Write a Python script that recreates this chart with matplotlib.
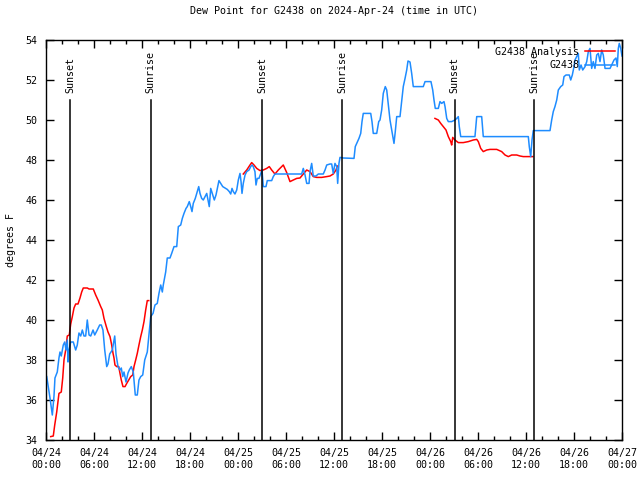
import numpy as np
import matplotlib

matplotlib.use("Agg")
import matplotlib.pyplot as plt

# hours since 2024-04-24 00:00 UTC
obs_hours = [
    0.09, 0.5, 0.79, 1.0, 1.12, 1.41, 1.62, 1.75, 1.91, 2.16, 2.34, 2.5, 2.66, 2.75, 2.88,
    3.09, 3.41, 3.71, 3.91, 4.12, 4.34, 4.54, 4.75, 4.96, 5.16, 5.38, 5.59, 5.88, 6.09,
    6.41, 6.71, 6.91, 7.12, 7.34, 7.59, 7.75, 7.96, 8.29, 8.59, 8.75, 9.0, 9.25, 9.41,
    9.59, 9.75, 10.0, 10.25, 10.41, 10.66, 10.91, 11.16, 11.41, 11.62, 11.84, 12.09,
    12.34, 12.66, 12.91, 13.09, 13.38, 13.62, 13.91, 14.12, 14.34, 14.54, 14.66,
    14.96, 15.16, 15.5, 15.71, 16.0, 16.34, 16.54, 16.84, 17.04, 17.25, 17.5, 17.66,
    17.91, 18.09, 18.25, 18.41, 18.66, 18.91, 19.09, 19.25, 19.46, 19.66, 19.88, 20.09,
    20.29, 20.41, 20.59, 20.79, 21.04, 21.25, 21.46, 21.62, 21.88, 22.09, 22.38, 22.66,
    22.91, 23.09, 23.25, 23.41, 23.62, 23.84, 24.04, 24.25, 24.38, 24.5, 24.66, 24.88,
    25.09, 25.38, 25.59, 25.75, 25.91, 26.12, 26.25, 26.41, 26.62, 26.84, 27.0,
    27.16, 27.5, 27.66, 28.21, 28.41, 28.62, 31.96, 32.16, 32.38, 32.59, 32.88, 33.0,
    33.21, 33.41, 33.75, 34.04, 34.66, 34.88, 35.09, 35.5, 35.71, 35.91, 36.12, 36.34,
    36.46, 36.62, 36.75, 37.16, 38.5, 38.66, 38.84, 39.12, 39.34, 39.5, 39.66, 40.59,
    40.75, 40.91, 41.34, 41.59, 41.75, 41.96, 42.16, 42.41, 42.59, 42.79, 43.0, 43.25,
    43.5, 43.66, 43.84, 44.25, 44.46, 44.66, 44.88, 45.09, 45.25, 45.5, 45.71, 45.91,
    47.16, 47.38, 48.12, 48.34, 48.5, 48.66, 49.04, 49.25, 49.46, 49.75, 49.88, 50.09,
    50.29, 50.71, 51.12, 51.34, 51.54, 51.66, 51.84, 53.62, 53.84, 54.46, 54.66, 60.29,
    60.41, 60.59, 60.75, 60.91, 63.0, 63.21, 63.41, 63.62, 63.84, 64.04, 64.34, 64.59,
    64.75, 65.0, 65.41, 65.59, 65.79, 66.0, 66.12, 66.34, 66.54, 66.66, 66.88, 67.09,
    67.38, 67.59, 67.79, 68.0, 68.21, 68.41, 68.62, 68.84, 69.04, 69.25, 69.46, 69.66,
    69.88, 70.5, 70.71, 71.0, 71.25, 71.41, 71.54, 71.66, 71.84, 72.0,
]
obs_dewpt = [
    37.17, 36.1, 35.25, 36.2, 37.1, 37.4, 38.1, 38.4, 38.2, 38.75, 38.9, 38.5, 39.0, 37.9, 38.5,
    38.9, 38.9, 38.5, 38.75, 39.35, 39.2, 39.5, 39.2, 39.2, 40.0, 39.25, 39.2, 39.5, 39.25,
    39.5, 39.75, 39.75, 39.5, 38.5, 37.67, 37.8, 38.3, 38.5, 39.2, 38.3, 37.67, 37.5, 37.6,
    37.17, 37.4, 36.9, 37.35, 37.5, 37.67, 37.4, 36.25, 36.25, 37.0, 37.17, 37.25,
    38.0, 38.4, 39.4, 40.17, 40.33, 40.75, 40.83, 41.33, 41.75, 41.4, 41.75,
    42.4, 43.1, 43.1, 43.33, 43.67, 43.67, 44.67, 44.75, 45.08, 45.33, 45.58, 45.67,
    45.92, 45.67, 45.42, 45.83, 46.08, 46.42, 46.67, 46.33, 46.08, 46.0, 46.17, 46.33,
    45.92, 45.67, 46.58, 46.33, 46.0, 46.25, 46.67, 46.97, 46.8, 46.67, 46.6, 46.53,
    46.42, 46.3, 46.58, 46.42, 46.3, 46.5, 47.0, 47.33, 46.92, 46.33, 46.83, 47.25,
    47.42, 47.5, 47.67, 47.75, 47.67, 47.42, 46.75, 47.08, 47.08, 47.33, 47.5,
    46.67, 46.67, 46.97, 46.97, 47.17, 47.3, 47.3, 47.58, 47.25, 46.83, 46.83, 47.42,
    47.83, 47.2, 47.2, 47.3, 47.3, 47.5, 47.75, 47.8, 47.8, 47.33, 47.83, 47.67,
    46.83, 47.83, 48.13, 48.1, 48.08, 48.67, 48.83, 49.08, 49.33, 49.92, 50.33, 50.33,
    49.92, 49.33, 49.33, 49.92, 50.0, 50.5, 51.33, 51.67, 51.5, 50.75, 50.0, 49.42,
    48.83, 49.42, 50.17, 50.17, 50.92, 51.67, 52.08, 52.5, 52.95, 52.9, 52.33, 51.67,
    51.67, 51.92, 51.92, 51.5, 51.0, 50.58, 50.58, 50.92, 50.83, 50.92, 50.67, 50.08,
    49.92, 49.92, 50.0, 50.08, 50.17, 49.67, 49.17, 49.17, 50.17, 50.17, 49.17, 49.17,
    48.67, 48.17, 49.0, 49.47, 49.47, 50.0, 50.42, 50.67, 51.0, 51.5, 51.67, 51.75,
    52.17, 52.25, 52.25, 52.0, 52.25, 52.67, 53.0, 53.17, 53.33, 52.5, 52.75, 52.5,
    52.67, 52.92, 53.42, 53.58, 52.58, 52.92, 52.58, 53.25, 53.33, 52.92, 53.5, 53.25,
    52.58, 52.58, 52.75, 53.0, 53.1, 52.67, 53.58, 53.83, 53.58, 53.2,
]

# analysis, None marks gaps
ana_hours = [
    0.59, 0.91, 1.09, 1.34, 1.62, 1.91, 2.09, 2.25, 2.46, 2.66, 2.91, 3.09, 3.29, 3.5,
    3.71, 4.0, 4.25, 4.46, 4.66, 5.16, 5.38, 5.91, 6.21, 6.5, 6.84, 7.04, 7.25, 7.54,
    7.75, 8.0, 8.21, 8.38, 8.5, 8.62, 8.84, 9.09, 9.25, 9.41, 9.62, 9.88, 10.09, 10.34,
    10.59, 10.84, 11.0, 11.21, 11.41, 11.62, 11.84, 12.04, 12.25, 12.46, 12.66, 12.84,
    18.0,
    24.66, 25.09, 25.5, 25.71, 26.0, 26.34, 26.75, 27.16, 27.59, 27.91, 28.21, 28.62,
    29.04, 29.66, 30.09, 30.5, 30.91, 31.34, 31.75, 32.16, 32.59, 33.0, 33.41, 33.84,
    34.46, 35.09, 35.5, 35.91, 36.25, 36.41,
    42.0,
    48.62, 49.04, 49.34, 49.66, 50.0, 50.29, 50.59, 50.71, 50.84, 51.12, 51.54, 52.16,
    52.79, 53.41, 53.84, 54.04, 54.34, 54.66, 55.09, 55.5, 56.34, 56.96, 57.38, 57.79,
    58.21, 58.84, 59.25, 59.66, 60.84,
]
ana_dewpt = [
    34.17, 34.2, 34.75, 35.4, 36.33, 36.4, 37.1, 38.0, 38.5, 39.2, 39.25, 39.8, 40.17, 40.6,
    40.8, 40.8, 41.1, 41.4, 41.6, 41.6, 41.55, 41.55, 41.25, 41.0, 40.67, 40.5, 40.08, 39.67,
    39.4, 39.17, 38.75, 38.33, 38.1, 37.75, 37.67, 37.67, 37.33, 37.0, 36.67, 36.67, 36.83, 37.0,
    37.17, 37.25, 37.67, 38.0, 38.33, 38.75, 39.17, 39.5, 39.92, 40.5, 40.97, 40.97,
    None,
    47.3, 47.5, 47.75, 47.87, 47.75, 47.58, 47.47, 47.5, 47.58, 47.67, 47.5, 47.3,
    47.5, 47.75, 47.37, 46.92, 47.0, 47.08, 47.1, 47.3, 47.5, 47.42, 47.17, 47.13,
    47.13, 47.17, 47.2, 47.3, 47.5, 47.7,
    None,
    50.08, 50.0, 49.83, 49.67, 49.5, 49.17, 48.92, 48.75, 49.13, 49.0, 48.87, 48.87,
    48.92, 49.0, 49.03, 48.92, 48.58, 48.42, 48.5, 48.53, 48.53, 48.42, 48.25, 48.17,
    48.25, 48.25, 48.2, 48.17, 48.17,
]

event_hours = [3.0, 13.1, 27.0, 37.0, 51.1, 61.0]
event_names = ["Sunset", "Sunrise", "Sunset", "Sunrise", "Sunset", "Sunrise"]

tick_hours = [0, 6, 12, 18, 24, 30, 36, 42, 48, 54, 60, 66, 72]
tick_labels = [
    "04/24\n00:00", "04/24\n06:00", "04/24\n12:00", "04/24\n18:00",
    "04/25\n00:00", "04/25\n06:00", "04/25\n12:00", "04/25\n18:00",
    "04/26\n00:00", "04/26\n06:00", "04/26\n12:00", "04/26\n18:00",
    "04/27\n00:00",
]

plt.rcParams["font.family"] = "DejaVu Sans Mono"
plt.rcParams["font.size"] = 7.2

fig = plt.figure(figsize=(6.4, 4.8), dpi=100)
ax = fig.add_axes([46 / 640, 40 / 480, 576 / 640, 400 / 480])

ana_y = np.array([np.nan if v is None else v for v in ana_dewpt], dtype=float)
ax.plot(ana_hours, ana_y, color="#ff0000", lw=1.1, label="G2438 Analysis")
ax.plot(obs_hours, obs_dewpt, color="#1e8cff", lw=1.1, label="G2438")

for h, name in zip(event_hours, event_names):
    ax.plot([h, h], [34, 51.0], color="black", lw=1.1)
    ax.text(h, 51.35, name, rotation=90, ha="center", va="bottom", fontsize=7.2)

ax.set_xlim(0, 72)
ax.set_ylim(34, 54)
ax.set_xticks(tick_hours)
ax.set_xticklabels(tick_labels)
ax.set_xticks(np.arange(0, 73, 2), minor=True)
ax.set_yticks(np.arange(34, 55, 2))
ax.tick_params(which="both", direction="in", top=True, right=True, width=1)
ax.tick_params(which="major", length=6, pad=6)
ax.tick_params(which="minor", length=3)
for s in ax.spines.values():
    s.set_linewidth(1)

ax.set_ylabel("degrees F", labelpad=7)
ax.set_title("Dew Point for G2438 on 2024-Apr-24 (time in UTC)", fontsize=7.2, pad=18.5)

leg = ax.legend(loc="upper right", frameon=False, markerfirst=False,
                handlelength=3.0, handletextpad=0.6, labelspacing=0.35,
                borderaxespad=0.3, fontsize=7.2)
for t in leg.get_texts():
    t.set_ha("right")

fig.savefig("out.png", dpi=100)
